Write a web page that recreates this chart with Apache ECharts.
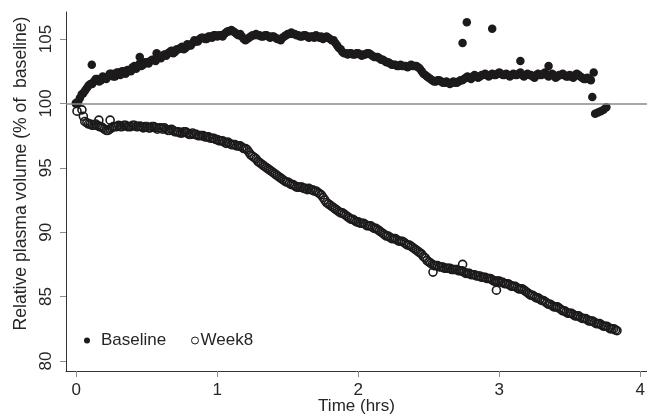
<!DOCTYPE html>
<html>
<head>
<meta charset="utf-8">
<script src="https://cdn.jsdelivr.net/npm/echarts@6/dist/echarts.min.js"></script>
<style>
html,body{margin:0;padding:0;background:#fff;}
#chart{width:647px;height:416px;}
</style>
</head>
<body>
<div id="chart"></div>
<script>
const seriesNames = ['Baseline', 'Week8'];
const xTicks = [0, 1, 2, 3, 4];
const yTicks = [80, 85, 90, 95, 100, 105];
const referenceValue = 100;

// Baseline: [time (hrs), relative plasma volume (%)]
const baselineData = [
[0.000,100.0],[0.025,100.4],[0.050,100.8],[0.075,101.2],[0.100,101.5],[0.125,101.7],[0.150,101.9],[0.175,101.8],
[0.200,102.0],[0.225,102.1],[0.250,102.3],[0.275,102.1],[0.300,102.4],[0.325,102.5],[0.350,102.3],[0.375,102.6],
[0.400,102.8],[0.425,102.7],[0.450,103.1],[0.475,103.0],[0.500,103.2],[0.525,103.3],[0.550,103.4],[0.575,103.6],
[0.600,103.5],[0.625,103.8],[0.650,103.9],[0.675,104.1],[0.700,104.0],[0.725,104.2],[0.750,104.4],[0.775,104.3],
[0.800,104.5],[0.825,104.7],[0.850,104.8],[0.875,105.0],[0.900,105.1],[0.925,105.0],[0.950,105.2],[0.975,105.3],
[1.000,105.2],[1.025,105.3],[1.050,105.4],[1.075,105.6],[1.100,105.7],[1.125,105.5],[1.150,105.3],[1.175,105.2],
[1.200,104.9],[1.225,105.1],[1.250,105.3],[1.275,105.4],[1.300,105.3],[1.325,105.2],[1.350,105.3],[1.375,105.1],
[1.400,105.2],[1.425,105.0],[1.450,104.9],[1.475,105.2],[1.500,105.4],[1.525,105.5],[1.550,105.4],[1.575,105.3],
[1.600,105.2],[1.625,105.3],[1.650,105.1],[1.675,105.2],[1.700,105.3],[1.725,105.1],[1.750,105.0],[1.775,105.2],
[1.800,105.0],[1.825,104.9],[1.850,104.5],[1.875,104.2],[1.900,103.9],[1.925,103.8],[1.950,103.9],[1.975,103.8],
[2.000,103.9],[2.025,103.7],[2.050,103.8],[2.075,103.9],[2.100,103.7],[2.125,103.6],[2.150,103.5],[2.175,103.4],
[2.200,103.2],[2.225,103.1],[2.250,103.0],[2.275,102.9],[2.300,103.0],[2.325,102.9],[2.350,102.8],[2.375,103.0],
[2.400,102.9],[2.425,102.8],[2.450,102.5],[2.475,102.2],[2.500,102.0],[2.525,101.8],[2.550,101.7],[2.575,101.8],
[2.600,101.6],[2.625,101.7],[2.650,101.5],[2.675,101.7],[2.700,101.6],[2.725,101.8],[2.750,101.9],[2.775,102.1],
[2.800,101.9],[2.825,102.2],[2.850,102.0],[2.875,102.2],[2.900,102.3],[2.925,102.1],[2.950,102.3],[2.975,102.2],
[3.000,102.4],[3.025,102.2],[3.050,102.3],[3.075,102.1],[3.100,102.3],[3.125,102.2],[3.150,102.4],[3.175,102.1],
[3.200,102.3],[3.225,102.2],[3.250,102.0],[3.275,102.3],[3.300,102.2],[3.325,102.4],[3.350,102.1],[3.375,102.3],
[3.400,102.0],[3.425,102.2],[3.450,102.3],[3.475,102.1],[3.500,102.2],[3.525,102.0],[3.550,102.3],[3.575,102.1],
[3.600,101.9],[3.625,102.0],[3.650,101.8],
[3.660,100.5],[3.680,99.2],[3.700,99.3],[3.720,99.4],[3.740,99.5],[3.760,99.7],
[0.110,103.0],[0.450,103.6],[0.570,103.9],[2.740,104.7],[2.770,106.3],[2.950,105.8],[3.150,103.3],[3.350,102.9],[3.670,102.4],
[0.0125,100.1],[0.0375,100.7],[0.0625,101.0],[0.0875,101.4],[0.1125,101.5],[0.1375,101.9],[0.1625,101.7],[0.1875,102.1],
[0.2125,101.9],[0.2375,102.3],[0.2625,102.1],[0.2875,102.4],[0.3125,102.2],[0.3375,102.5],[0.3625,102.6],[0.3875,102.5],
[0.4125,102.9],[0.4375,102.9],[0.4625,102.9],[0.4875,103.2],[0.5125,103.1],[0.5375,103.4],[0.5625,103.3],[0.5875,103.7],
[0.6125,103.7],[0.6375,103.7],[0.6625,104.0],[0.6875,103.9],[0.7125,104.2],[0.7375,104.3],[0.7625,104.2],[0.7875,104.6],
[0.8125,104.5],[0.8375,104.9],[0.8625,104.8],[0.8875,105.1],[0.9125,105.0],[0.9375,105.2],[0.9625,105.1],[0.9875,105.3],
[1.0125,105.3],[1.0375,105.2],[1.0625,105.5],[1.0875,105.6],[1.1125,105.6],[1.1375,105.4],[1.1625,105.4],[1.1875,105.0],
[1.2125,105.0],[1.2375,105.2],[1.2625,105.3],[1.2875,105.3],[1.3125,105.2],[1.3375,105.3],[1.3625,105.2],[1.3875,105.2],
[1.4125,105.1],[1.4375,105.0],[1.4625,105.1],[1.4875,105.3],[1.5125,105.4],[1.5375,105.4],[1.5625,105.3],[1.5875,105.2],
[1.6125,105.3],[1.6375,105.2],[1.6625,105.2],[1.6875,105.1],[1.7125,105.2],[1.7375,105.2],[1.7625,105.1],[1.7875,105.1],
[1.8125,104.9],[1.8375,104.7],[1.8625,104.3],[1.8875,104.0],[1.9125,103.9],[1.9375,103.9],[1.9625,103.8],[1.9875,103.9],
[2.0125,103.8],[2.0375,103.8],[2.0625,103.9],[2.0875,103.8],[2.1125,103.6],[2.1375,103.6],[2.1625,103.4],[2.1875,103.3],
[2.2125,103.2],[2.2375,103.0],[2.2625,103.0],[2.2875,102.9],[2.3125,102.9],[2.3375,102.9],[2.3625,102.9],[2.3875,102.9],
[2.4125,102.9],[2.4375,102.7],[2.4625,102.3],[2.4875,102.1],[2.5125,101.9],[2.5375,101.7],[2.5625,101.8],[2.5875,101.7],
[2.6125,101.6],[2.6375,101.6],[2.6625,101.6],[2.6875,101.6],[2.7125,101.7],[2.7375,101.8],[2.7625,102.0],[2.7875,102.0],
[2.8125,102.1],[2.8375,102.1],[2.8625,102.1],[2.8875,102.2],[2.9125,102.2],[2.9375,102.2],[2.9625,102.2],[2.9875,102.3],
[3.0125,102.3],[3.0375,102.2],[3.0625,102.2],[3.0875,102.2],[3.1125,102.2],[3.1375,102.3],[3.1625,102.2],[3.1875,102.2],
[3.2125,102.2],[3.2375,102.1],[3.2625,102.2],[3.2875,102.2],[3.3125,102.3],[3.3375,102.2],[3.3625,102.2],[3.3875,102.2],
[3.4125,102.1],[3.4375,102.2],[3.4625,102.2],[3.4875,102.1],[3.5125,102.1],[3.5375,102.2],[3.5625,102.2],[3.5875,102.0],
[3.6125,101.9],[3.6375,101.9]
];

// Week8: [time (hrs), relative plasma volume (%)]
const week8Data = [
[0.000,100.0],[0.005,99.4],[0.040,99.5],[0.050,99.0],[0.060,98.6],
[0.075,98.5],[0.100,98.4],[0.125,98.3],[0.150,98.3],[0.175,98.2],[0.200,98.0],[0.225,97.9],[0.250,98.1],
[0.275,98.2],[0.300,98.3],[0.325,98.2],[0.350,98.3],[0.375,98.2],[0.400,98.3],[0.425,98.2],[0.450,98.25],
[0.475,98.1],[0.500,98.2],[0.525,98.1],[0.550,98.2],[0.575,98.0],[0.600,98.1],[0.625,98.1],[0.650,97.9],
[0.675,98.0],[0.700,97.8],[0.725,97.8],[0.750,97.7],[0.775,97.8],[0.800,97.6],[0.825,97.7],[0.850,97.6],
[0.875,97.5],[0.900,97.5],[0.925,97.4],[0.950,97.3],[0.975,97.3],[1.000,97.2],[1.025,97.1],[1.050,97.0],
[1.075,97.0],[1.100,96.8],[1.125,96.8],[1.150,96.7],[1.175,96.6],[1.200,96.5],[1.225,96.2],[1.250,95.9],
[1.275,95.7],[1.300,95.4],[1.325,95.2],[1.350,95.0],[1.375,94.8],[1.400,94.6],[1.425,94.4],[1.450,94.2],
[1.475,94.0],[1.500,93.9],[1.525,93.7],[1.550,93.6],[1.575,93.5],[1.600,93.5],[1.625,93.4],[1.650,93.4],
[1.675,93.3],[1.700,93.2],[1.725,93.0],[1.750,92.7],[1.775,92.3],[1.800,92.1],[1.825,91.9],[1.850,91.7],
[1.875,91.5],[1.900,91.4],[1.925,91.2],[1.950,91.0],[1.975,90.9],[2.000,90.8],[2.025,90.7],[2.050,90.6],
[2.075,90.5],[2.100,90.4],[2.125,90.3],[2.150,90.1],[2.175,89.9],[2.200,89.7],[2.225,89.6],[2.250,89.5],
[2.275,89.4],[2.300,89.3],[2.325,89.2],[2.350,89.0],[2.375,88.9],[2.400,88.7],[2.425,88.5],[2.450,88.3],
[2.475,88.0],[2.500,87.7],[2.525,87.5],[2.550,87.4],[2.575,87.3],[2.600,87.3],[2.625,87.2],[2.650,87.2],
[2.675,87.1],[2.700,87.1],[2.725,87.0],[2.750,86.9],[2.775,86.8],[2.800,86.7],[2.825,86.7],[2.850,86.6],
[2.875,86.5],[2.900,86.5],[2.925,86.4],[2.950,86.3],[2.975,86.2],[3.000,86.2],[3.025,86.1],[3.050,86.0],
[3.075,85.9],[3.100,85.8],[3.125,85.7],[3.150,85.6],[3.175,85.5],[3.200,85.3],[3.225,85.1],[3.250,85.0],
[3.275,84.9],[3.300,84.7],[3.325,84.6],[3.350,84.4],[3.375,84.3],[3.400,84.2],[3.425,84.1],[3.450,83.9],
[3.475,83.8],[3.500,83.7],[3.525,83.6],[3.550,83.5],[3.575,83.4],[3.600,83.3],[3.625,83.2],[3.650,83.1],
[3.675,83.0],[3.700,82.9],[3.725,82.8],[3.750,82.7],[3.775,82.6],[3.800,82.5],[3.825,82.4],[3.835,82.35],
[0.160,98.7],[0.240,98.7],[2.530,86.9],[2.740,87.5],[2.980,85.5],
[0.0875,98.4],[0.1125,98.3],[0.1375,98.4],[0.1625,98.2],[0.1875,98.1],[0.2125,97.9],[0.2375,98.0],[0.2625,98.2],
[0.2875,98.2],[0.3125,98.2],[0.3375,98.3],[0.3625,98.2],[0.3875,98.2],[0.4125,98.3],[0.4375,98.2],[0.4625,98.2],
[0.4875,98.2],[0.5125,98.1],[0.5375,98.2],[0.5625,98.1],[0.5875,98.1],[0.6125,98.0],[0.6375,98.0],[0.6625,97.9],
[0.6875,97.9],[0.7125,97.8],[0.7375,97.7],[0.7625,97.8],[0.7875,97.7],[0.8125,97.6],[0.8375,97.6],[0.8625,97.5],
[0.8875,97.5],[0.9125,97.4],[0.9375,97.4],[0.9625,97.3],[0.9875,97.2],[1.0125,97.1],[1.0375,97.1],[1.0625,96.9],
[1.0875,96.9],[1.1125,96.8],[1.1375,96.7],[1.1625,96.7],[1.1875,96.5],[1.2125,96.4],[1.2375,96.0],[1.2625,95.8],
[1.2875,95.5],[1.3125,95.3],[1.3375,95.1],[1.3625,94.9],[1.3875,94.7],[1.4125,94.5],[1.4375,94.3],[1.4625,94.1],
[1.4875,93.9],[1.5125,93.8],[1.5375,93.7],[1.5625,93.5],[1.5875,93.5],[1.6125,93.4],[1.6375,93.3],[1.6625,93.3],
[1.6875,93.2],[1.7125,93.1],[1.7375,92.9],[1.7625,92.5],[1.7875,92.2],[1.8125,92.0],[1.8375,91.8],[1.8625,91.6],
[1.8875,91.5],[1.9125,91.3],[1.9375,91.1],[1.9625,91.0],[1.9875,90.8],[2.0125,90.7],[2.0375,90.7],[2.0625,90.5],
[2.0875,90.5],[2.1125,90.3],[2.1375,90.2],[2.1625,90.0],[2.1875,89.8],[2.2125,89.7],[2.2375,89.5],[2.2625,89.5],
[2.2875,89.3],[2.3125,89.3],[2.3375,89.1],[2.3625,89.0],[2.3875,88.8],[2.4125,88.6],[2.4375,88.4],[2.4625,88.1],
[2.4875,87.8],[2.5125,87.6],[2.5375,87.4],[2.5625,87.4],[2.5875,87.3],[2.6125,87.2],[2.6375,87.2],[2.6625,87.1],
[2.6875,87.1],[2.7125,87.0],[2.7375,87.0],[2.7625,86.8],[2.7875,86.8],[2.8125,86.7],[2.8375,86.6],[2.8625,86.6],
[2.8875,86.5],[2.9125,86.4],[2.9375,86.4],[2.9625,86.2],[2.9875,86.2],[3.0125,86.1],[3.0375,86.0],[3.0625,86.0],
[3.0875,85.8],[3.1125,85.8],[3.1375,85.6],[3.1625,85.6],[3.1875,85.4],[3.2125,85.2],[3.2375,85.1],[3.2625,84.9],
[3.2875,84.8],[3.3125,84.7],[3.3375,84.5],[3.3625,84.4],[3.3875,84.2],[3.4125,84.2],[3.4375,84.0],[3.4625,83.9],
[3.4875,83.7],[3.5125,83.7],[3.5375,83.5],[3.5625,83.5],[3.5875,83.3],[3.6125,83.3],[3.6375,83.1],[3.6625,83.1],
[3.6875,82.9],[3.7125,82.9],[3.7375,82.7],[3.7625,82.7],[3.7875,82.5],[3.8125,82.5]
];

const FONT = 'Liberation Sans, Arial, Helvetica, sans-serif';
const TXT = '#262626';

const chart = echarts.init(document.getElementById('chart'), null, {renderer: 'canvas'});
chart.setOption({
  animation: false,
  backgroundColor: '#ffffff',
  textStyle: {fontFamily: FONT},
  grid: {left: 66, right: 0, top: 12, bottom: 45, containLabel: false, outerBoundsMode: 'none'},
  legend: [
    {
      data: [seriesNames[0]], left: 84, top: 332, padding: 0,
      icon: 'circle', itemWidth: 6, itemHeight: 6,
      textStyle: {fontSize: 17, color: TXT, fontFamily: FONT, padding: [0, 0, 0, 6]}
    },
    {
      data: [{name: seriesNames[1], itemStyle: {borderWidth: 1}}], left: 191, top: 332, padding: 0,
      icon: 'circle', itemWidth: 7, itemHeight: 7,
      textStyle: {fontSize: 17, color: TXT, fontFamily: FONT, padding: [0, 0, 0, -3]}
    }
  ],
  xAxis: {
    type: 'value', min: -0.073, max: 4.048,
    name: 'Time (hrs)', nameLocation: 'middle', nameGap: 27, nameMoveOverlap: false,
    nameTextStyle: {fontSize: 17, color: TXT, fontFamily: FONT},
    axisLine: {show: true, onZero: false, lineStyle: {color: '#333', width: 1}},
    axisTick: {show: true, length: 6, customValues: xTicks, lineStyle: {color: '#8c8c8c', width: 1}},
    axisLabel: {customValues: xTicks, fontSize: 17, color: TXT, margin: 11, fontFamily: FONT},
    splitLine: {show: false}
  },
  yAxis: {
    type: 'value', min: 79.22, max: 107.1,
    name: 'Relative plasma volume (% of  baseline)', nameLocation: 'middle', nameGap: 36, nameMoveOverlap: false,
    nameTextStyle: {fontSize: 17.6, color: TXT, fontFamily: FONT, padding: [0, 0, 0, 36]},
    axisLine: {show: true, onZero: false, lineStyle: {color: '#333', width: 1}},
    axisTick: {show: true, length: 6, customValues: yTicks, lineStyle: {color: '#8c8c8c', width: 1}},
    axisLabel: {customValues: yTicks, rotate: 90, fontSize: 17, color: TXT, margin: 11, fontFamily: FONT},
    splitLine: {show: false}
  },
  series: [
    {
      name: seriesNames[0], type: 'scatter', data: baselineData,
      symbol: 'circle', symbolSize: 8.5,
      itemStyle: {color: '#1c1a1a', opacity: 1},
      markLine: {
        silent: true, symbol: 'none', animation: false,
        label: {show: false},
        lineStyle: {color: '#8a8a8a', width: 1.5, type: 'solid'},
        data: [{yAxis: referenceValue}]
      },
      z: 2
    },
    {
      name: seriesNames[1], type: 'scatter', data: week8Data,
      symbol: 'circle', symbolSize: 8,
      itemStyle: {color: 'rgba(255,255,255,0)', borderColor: '#1c1a1a', borderWidth: 1.6, opacity: 1},
      z: 3
    }
  ]
});
</script>
</body>
</html>
